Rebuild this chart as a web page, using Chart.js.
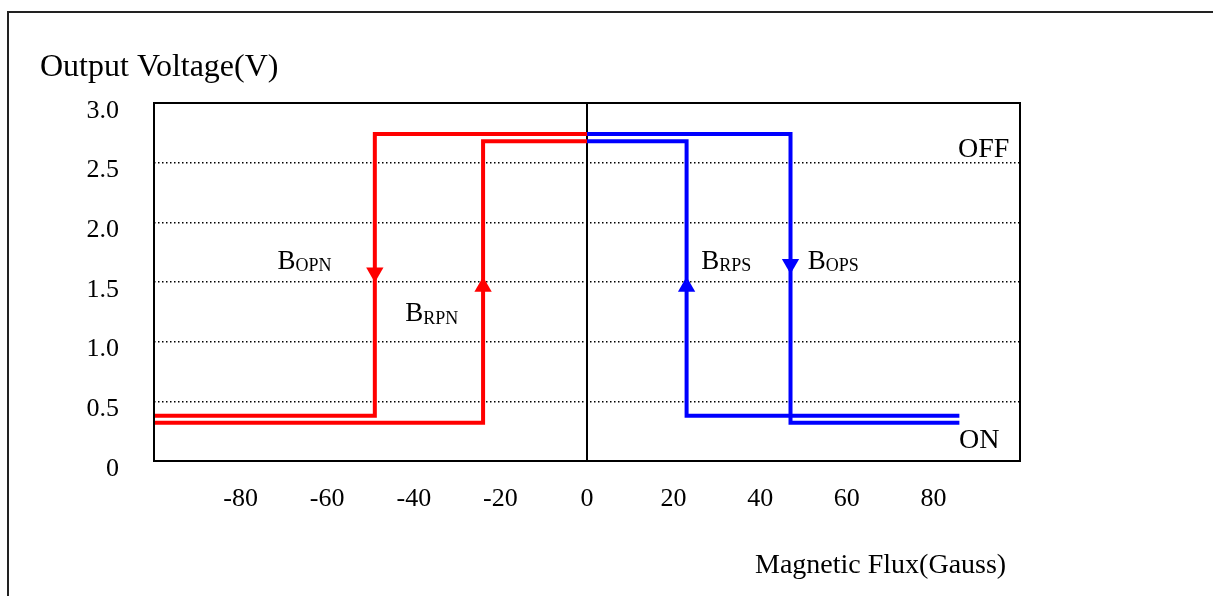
<!DOCTYPE html>
<html>
<head>
<meta charset="utf-8">
<title>Output Voltage vs Magnetic Flux</title>
<script src="https://cdn.jsdelivr.net/npm/chart.js@4.4.1/dist/chart.umd.min.js"></script>
<style>
  html, body { margin: 0; padding: 0; background: #fff; }
  #wrap { width: 1213px; height: 596px; }
</style>
</head>
<body>
<div id="wrap"><canvas id="chartHall" width="1213" height="596"></canvas></div>
<script>
// tick sumbu
const xTicks = [-80, -60, -40, -20, 0, 20, 40, 60, 80];
const yTicks = [0, 0.5, 1.0, 1.5, 2.0, 2.5, 3.0];

// kurva histeresis: flux (Gauss) dan tegangan (V) di tiap sudut
const fluxOPN = [-100, -49, -49, 0];
const voltOPN = [0.38, 0.38, 2.74, 2.74];
const fluxRPN = [-100, -24, -24, 0];
const voltRPN = [0.32, 0.32, 2.68, 2.68];
const fluxRPS = [0, 23, 23, 86];
const voltRPS = [2.68, 2.68, 0.38, 0.38];
const fluxOPS = [0, 47, 47, 86];
const voltOPS = [2.74, 2.74, 0.32, 0.32];

// panah arah (turun = true)
const arrowFluxN = [-49, -24];
const arrowVoltN = [1.58, 1.46];
const arrowDownN = [true, false];
const arrowFluxS = [23, 47];
const arrowVoltS = [1.46, 1.65];
const arrowDownS = [false, true];

// label titik B
const labelSub = ['OPN', 'RPN', 'RPS', 'OPS'];
const labelFlux = [-71.5, -42, 26.4, 51];
const labelVolt = [1.61, 1.17, 1.61, 1.61];

// label keadaan
const stateText = ['OFF', 'ON'];
const stateFlux = [85.7, 85.9];
const stateVolt = [2.55, 0.11];

const RED = '#ff0000';
const BLUE = '#0000ff';
const SERIF = '"Liberation Serif", "Times New Roman", serif';

function toPoints(xs, ys) {
    return xs.map((v, i) => ({ x: v, y: ys[i] }));
}

function stepLine(label, xs, ys, color) {
    return {
        label: label,
        data: toPoints(xs, ys),
        borderColor: color,
        borderWidth: 4,
        borderJoinStyle: 'miter',
        borderCapStyle: 'butt',
        pointRadius: 0,
        fill: false,
        tension: 0
    };
}

function arrows(label, xs, ys, down, color) {
    return {
        type: 'scatter',
        label: label,
        data: toPoints(xs, ys),
        backgroundColor: color,
        borderColor: color,
        borderWidth: 0,
        pointStyle: 'triangle',
        pointRadius: 10,
        pointHoverRadius: 10,
        rotation: ctx => (down[ctx.dataIndex] ? 180 : 0)
    };
}

// gambar bingkai, judul dan label teks
const framePlugin = {
    id: 'frame',
    afterDraw(chart) {
        const { ctx, chartArea: a, scales: { x, y } } = chart;
        ctx.save();

        ctx.strokeStyle = '#222';
        ctx.lineWidth = 2;
        ctx.beginPath();
        ctx.moveTo(8, 600);
        ctx.lineTo(8, 12);
        ctx.lineTo(1215, 12);
        ctx.stroke();

        ctx.strokeStyle = '#000';
        ctx.lineWidth = 2;
        ctx.strokeRect(a.left, a.top, a.right - a.left, a.bottom - a.top);

        ctx.fillStyle = '#000';
        ctx.textAlign = 'left';
        ctx.textBaseline = 'alphabetic';
        ctx.font = '32px ' + SERIF;
        ctx.fillText('Output Voltage(V)', 40, 76);
        ctx.font = '28px ' + SERIF;
        ctx.fillText('Magnetic Flux(Gauss)', 755, 573);

        stateText.forEach((t, i) => {
            ctx.font = '28px ' + SERIF;
            ctx.fillText(t, x.getPixelForValue(stateFlux[i]), y.getPixelForValue(stateVolt[i]));
        });

        labelSub.forEach((sub, i) => {
            const px = x.getPixelForValue(labelFlux[i]);
            const py = y.getPixelForValue(labelVolt[i]);
            ctx.font = '27px ' + SERIF;
            ctx.fillText('B', px, py);
            ctx.font = '18px ' + SERIF;
            ctx.fillText(sub, px + 18, py + 2.5);
        });

        ctx.restore();
    }
};

new Chart(document.getElementById('chartHall'), {
    type: 'line',
    data: {
        datasets: [
            stepLine('BOPN', fluxOPN, voltOPN, RED),
            stepLine('BRPN', fluxRPN, voltRPN, RED),
            stepLine('BRPS', fluxRPS, voltRPS, BLUE),
            stepLine('BOPS', fluxOPS, voltOPS, BLUE),
            arrows('arrowN', arrowFluxN, arrowVoltN, arrowDownN, RED),
            arrows('arrowS', arrowFluxS, arrowVoltS, arrowDownS, BLUE)
        ]
    },
    options: {
        responsive: false,
        animation: false,
        devicePixelRatio: 1,
        layout: { padding: { top: 103, right: 193, bottom: 0, left: 0 } },
        plugins: {
            legend: { display: false },
            tooltip: { enabled: false },
            title: { display: false }
        },
        scales: {
            x: {
                type: 'linear',
                min: -100,
                max: 100,
                afterBuildTicks: s => { s.ticks = xTicks.map(v => ({ value: v })); },
                afterFit: s => { s.height = 135; },
                ticks: {
                    color: '#000',
                    font: { family: SERIF, size: 26 },
                    padding: 23,
                    maxRotation: 0,
                    autoSkip: false
                },
                grid: {
                    drawTicks: false,
                    color: c => (c.tick && c.tick.value === 0 ? '#000' : 'rgba(0,0,0,0)'),
                    lineWidth: 2
                },
                border: { display: false }
            },
            y: {
                type: 'linear',
                min: 0,
                max: 3,
                afterBuildTicks: s => { s.ticks = yTicks.map(v => ({ value: v })); },
                afterFit: s => { s.width = 154; },
                ticks: {
                    color: '#000',
                    font: { family: SERIF, size: 26 },
                    padding: 35,
                    labelOffset: 8,
                    callback: v => (v === 0 ? '0' : v.toFixed(1))
                },
                grid: {
                    drawTicks: false,
                    color: c => (c.tick && (c.tick.value === 0 || c.tick.value === 3) ? 'rgba(0,0,0,0)' : '#000'),
                    lineWidth: 1.5,
                    borderDash: [1.5, 2.5]
                },
                border: { display: false, dash: [1.5, 2.5] }
            }
        }
    },
    plugins: [framePlugin]
});
</script>
</body>
</html>
